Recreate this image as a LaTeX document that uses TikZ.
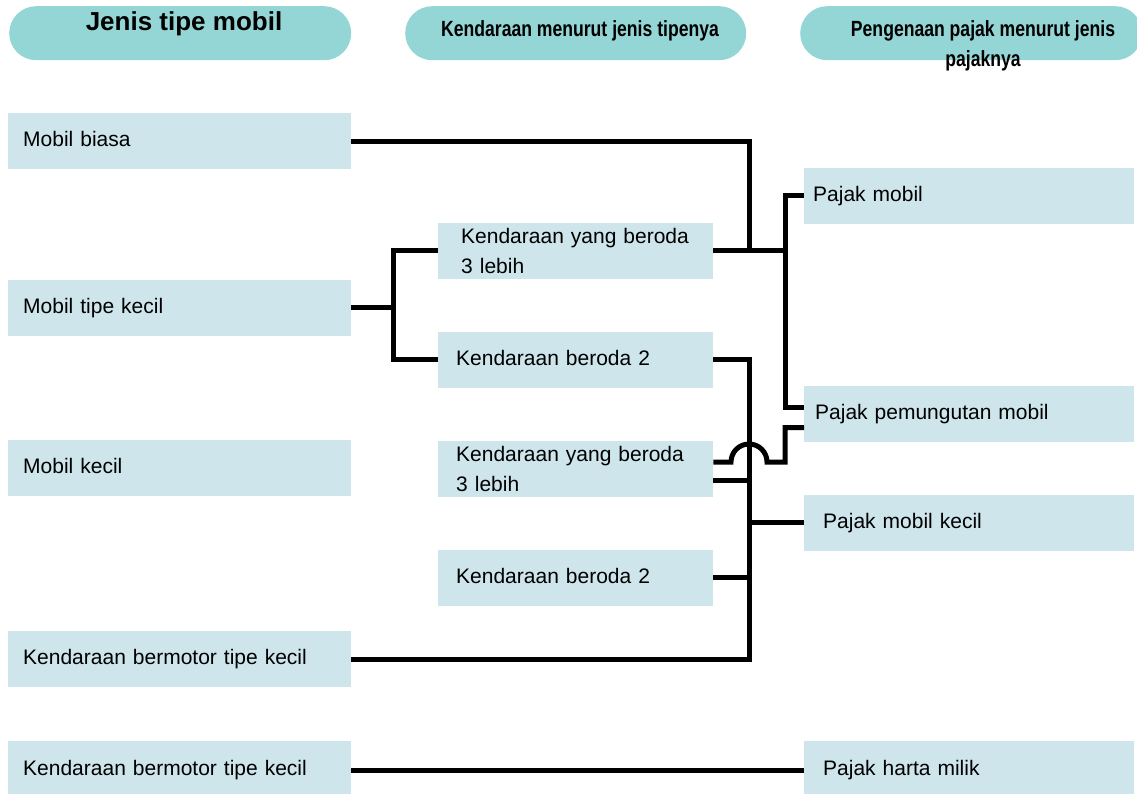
\documentclass[tikz,border=0pt]{standalone}
\usepackage{fontspec}
\setmainfont{Liberation Sans}
\newfontfamily\narrowfont{Liberation Sans}[FakeStretch=0.8]
\usepackage{tikz}
\usetikzlibrary{positioning,calc}

\definecolor{headteal}{RGB}{148,213,213}
\definecolor{boxblue}{RGB}{205,229,235}

\newcommand{\bodyfont}{\fontsize{21pt}{30pt}\selectfont}

\begin{document}
\begin{tikzpicture}[x=1pt,y=-1pt,
    head/.style={fill=headteal,rounded corners=27pt,minimum height=54pt,inner sep=0pt,anchor=north west},
    box/.style={fill=boxblue,minimum height=56pt,anchor=west,align=left,font=\bodyfont,inner ysep=0pt},
    lbox/.style={box,inner xsep=15pt,text width=313pt},
    mbox/.style={box,inner xsep=18pt,text width=239pt},
    rbox/.style={box,inner xsep=19pt,text width=292pt},
    one/.style={text height=15pt,text depth=4pt},
    link/.style={line width=5pt}]
  \useasboundingbox (0,0) rectangle (1137,793);

  % headers
  \node[head,minimum width=342pt] (h1) at (9,6) {};
  \node[head,minimum width=341pt] (h2) at (405,6) {};
  \node[head,minimum width=342pt] (h3) at (800,6) {};
  \node[anchor=base,font=\fontsize{26pt}{30pt}\selectfont\bfseries] (t1) at (184,30) {Jenis tipe mobil};
  \node[anchor=base,font=\fontsize{22pt}{30pt}\narrowfont\bfseries] (t2) at (580,36) {Kendaraan menurut jenis tipenya};
  \node[anchor=base,align=center,font=\fontsize{22pt}{30pt}\narrowfont\bfseries] (t3) at (983,66) {Pengenaan pajak menurut jenis\\pajaknya};

  % jenis tipe mobil
  \node[lbox,one] (L1) at (8,141) {Mobil biasa};
  \node[lbox,one] (L2) at (8,307.5) {Mobil tipe kecil};
  \node[lbox,one] (L3) at (8,467.5) {Mobil kecil};
  \node[lbox,one] (L4) at (8,659) {Kendaraan bermotor tipe kecil};
  \node[lbox,one,minimum height=58pt] (L5) at (8,770) {Kendaraan bermotor tipe kecil};

  % kendaraan
  \node[mbox,inner xsep=23pt,text width=229pt] (M1) at (438,250.5) {Kendaraan yang beroda\\3 lebih};
  \node[mbox,one] (M2) at (438,359.5) {Kendaraan beroda 2};
  \node[mbox] (M3) at (438,469) {Kendaraan yang beroda\\3 lebih};
  \node[mbox,one] (M4) at (438,577.5) {Kendaraan beroda 2};

  % pajak
  \node[rbox,one,inner xsep=9pt,text width=312pt] (R1) at (804,195.5) {Pajak mobil};
  \node[rbox,one,inner xsep=11pt,text width=308pt] (R2) at (804,413.5) {Pajak pemungutan mobil};
  \node[rbox,one] (R3) at (804,522.5) {Pajak mobil kecil};
  \node[rbox,one,minimum height=58pt] (R4) at (804,770) {Pajak harta milik};

  \coordinate (xa) at (749,0);
  \coordinate (xb) at (785,0);
  \coordinate (xc) at (393,0);

  \draw[link] (L1.east) -| (M1.east -| xa);
  \draw[link] (M1.east) -- (M1.east -| xb);
  \draw[link] (R1.west) -| ($(R2.west -| xb)+(0,-6)$) -- ($(R2.west)+(0,-6)$);
  \draw[link] (L2.east) -- (L2.east -| xc);
  \draw[link] (M1.west) -| (M2.west -| xc) -- (M2.west);
  \draw[link] (M2.east) -| (L4.east -| xa) -- (L4.east);
  \draw[link] ($(M3.east)+(0,11)$) -- ($(M3.east -| xa)+(0,11)$);
  \draw[link] ($(M3.east)+(0,-7)$) -- ($(M3.east -| xa)+(-18,-7)$)
    arc[start angle=180,end angle=0,radius=18pt]
    -| ($(R2.west -| xb)+(0,14)$) -- ($(R2.west)+(0,14)$);
  \draw[link] (M4.east) -- (M4.east -| xa);
  \draw[link] (R3.west) -- (R3.west -| xa);
  \draw[link] (L5.east) -- (R4.west);
\end{tikzpicture}
\end{document}
